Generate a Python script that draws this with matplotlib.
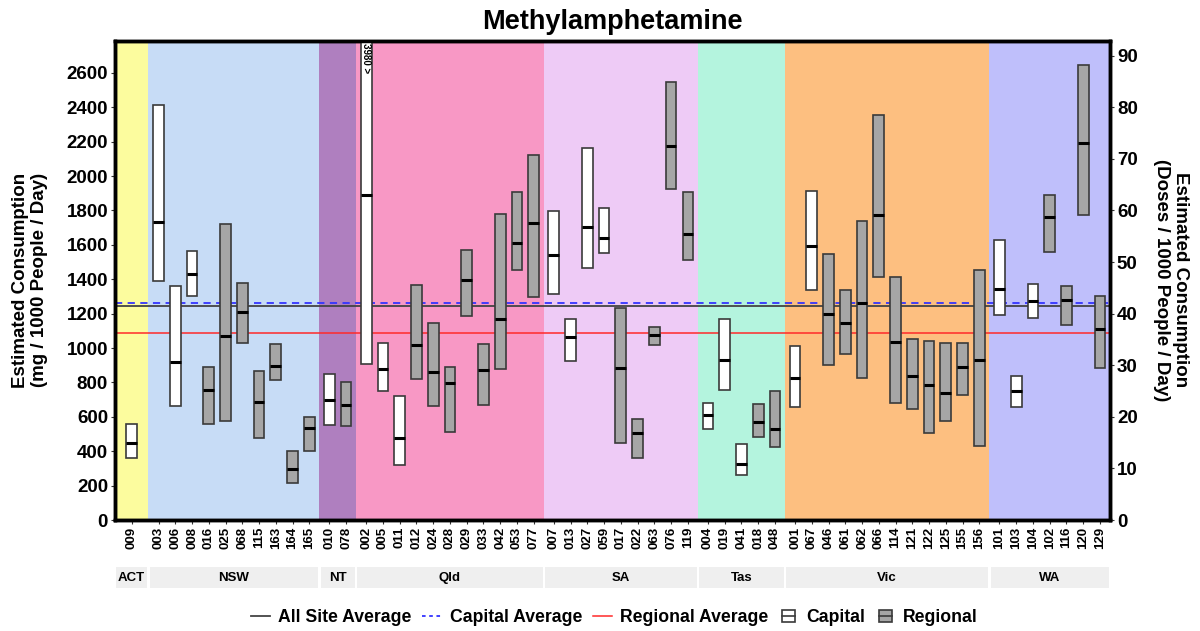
import matplotlib.pyplot as plt
from matplotlib.patches import Rectangle, Patch
from matplotlib.lines import Line2D

plt.rcParams['font.family'] = ['Liberation Sans', 'DejaVu Sans']
plt.rcParams['font.weight'] = 'bold'

# states and their site counts (in plot order)
states = ['ACT', 'NSW', 'NT', 'Qld', 'SA', 'Tas', 'Vic', 'WA']
state_sizes = [1, 10, 2, 11, 9, 5, 12, 7]
state_colours = ['#FCFC9E', '#C7DCF6', '#AF7FBF', '#F898C5',
                 '#EECBF6', '#B4F4DE', '#FDBF80', '#BFBFFB']

codes = ['009',
         '003', '006', '008', '016', '025', '068', '115', '163', '164', '165',
         '010', '078',
         '002', '005', '011', '012', '024', '028', '029', '033', '042', '053', '077',
         '007', '013', '027', '059', '017', '022', '063', '076', '119',
         '004', '019', '041', '018', '048',
         '001', '067', '046', '061', '062', '066', '114', '121', '122', '125', '155', '156',
         '101', '103', '104', '102', '116', '120', '129']

# 1 = capital, 0 = regional
capital = [1,
           1, 1, 1, 0, 0, 0, 0, 0, 0, 0,
           1, 0,
           1, 1, 1, 0, 0, 0, 0, 0, 0, 0, 0,
           1, 1, 1, 1, 0, 0, 0, 0, 0,
           1, 1, 1, 0, 0,
           1, 1, 0, 0, 0, 0, 0, 0, 0, 0, 0, 0,
           1, 1, 1, 0, 0, 0, 0]

low = [363,
       1388, 665, 1303, 559, 578, 1028, 479, 816, 217, 402,
       553, 549,
       905, 750, 317, 820, 663, 514, 1187, 669, 880, 1454, 1295,
       1316, 926, 1467, 1550, 445, 363, 1017, 1927, 1510,
       532, 758, 261, 485, 425,
       655, 1338, 901, 963, 827, 1413, 682, 646, 507, 576, 727, 431,
       1191, 657, 1177, 1558, 1131, 1775, 882]

median = [445,
          1730, 918, 1429, 758, 1067, 1208, 684, 895, 294, 534,
          700, 669,
          1891, 880, 478, 1015, 860, 798, 1396, 872, 1166, 1610, 1724,
          1541, 1063, 1705, 1639, 882, 503, 1077, 2173, 1664,
          611, 932, 325, 568, 530,
          827, 1595, 1199, 1148, 1260, 1775, 1034, 837, 787, 740, 889, 928,
          1344, 750, 1274, 1763, 1278, 2192, 1112]

high = [557,
        2412, 1363, 1564, 887, 1719, 1380, 866, 1021, 402, 599,
        851, 800,
        3980, 1027, 721, 1369, 1144, 891, 1572, 1023, 1779, 1906, 2125,
        1798, 1166, 2165, 1813, 1230, 590, 1123, 2548, 1910,
        682, 1170, 443, 675, 748,
        1009, 1912, 1547, 1336, 1738, 2357, 1415, 1052, 1038, 1028, 1030, 1454,
        1626, 839, 1371, 1889, 1363, 2646, 1301]

all_avg = 1245
capital_avg = 1264
regional_avg = 1088

mg_per_dose = 30
y_max = 2785


class BoxHandler:
    """ small square box with a median line for the legend """
    def legend_artist(self, legend, orig_handle, fontsize, handlebox):
        x0, y0 = handlebox.xdescent, handlebox.ydescent
        w, h = handlebox.width, handlebox.height
        side = h * 1.0
        left = x0 + (w - side) / 2
        bottom = y0 + (h - side) / 2
        rect = Rectangle((left, bottom), side, side,
                         facecolor=orig_handle.get_facecolor(),
                         edgecolor='#3A3A3A', lw=1.2,
                         transform=handlebox.get_transform())
        mid = Line2D([left, left + side], [bottom + side / 2] * 2,
                     color='#3A3A3A', lw=1.2,
                     transform=handlebox.get_transform())
        handlebox.add_artist(rect)
        handlebox.add_artist(mid)
        return rect


# x layout: each state block is n + 0.2 wide (single site block is 2 wide)
x_pos = []
blocks = []
start = 0.0
for n in state_sizes:
    width = 2.0 if n == 1 else n + 0.2
    first = start + (1.0 if n == 1 else 0.6)
    for i in range(n):
        x_pos.append(first + i)
    blocks.append((start, width))
    start += width
x_end = start

fig = plt.figure(figsize=(12, 6.31), dpi=100)
ax = fig.add_axes([0.0958, 0.1759, 0.8292, 0.7591])

for (s, w), c in zip(blocks, state_colours):
    ax.axvspan(s, s + w, color=c, zorder=0, lw=0)

ax.axhline(all_avg, color='#444444', lw=1.3, zorder=1)
ax.axhline(capital_avg, color='#3333FF', lw=1.3, ls=(0, (4, 3)), zorder=1)
ax.axhline(regional_avg, color='#FF2A2A', lw=1.1, zorder=1)

box_w = 0.64
for x, c, lo, me, hi in zip(x_pos, capital, low, median, high):
    face = 'white' if c else '#A6A6A6'
    ax.bar(x, hi - lo, bottom=lo, width=box_w, color=face,
           edgecolor='#3A3A3A', linewidth=1.2, zorder=3)
    ax.plot([x - box_w / 2, x + box_w / 2], [me, me], color='black',
            lw=2.2, zorder=4, solid_capstyle='butt')
    if hi > y_max:
        ax.text(x, y_max - 12, '%d >' % hi, rotation=270, ha='center',
                va='top', fontsize=7, zorder=5)

ax.set_xlim(0, x_end)
ax.set_ylim(0, y_max)
ax.set_yticks(range(0, 2601, 200))
ax.set_xticks(x_pos)
ax.set_xticklabels(codes, rotation=90, fontsize=9.5)
ax.tick_params(axis='y', labelsize=13.5, length=3, color='#333333', pad=2)
ax.tick_params(axis='x', length=3, color='#333333', pad=2)
for sp in ax.spines.values():
    sp.set_linewidth(2.5)

ax2 = ax.twinx()
ax2.set_ylim(0, y_max / mg_per_dose)
ax2.set_yticks(range(0, 91, 10))
ax2.tick_params(axis='y', labelsize=13.5, length=3, color='#333333', pad=2)
for sp in ax2.spines.values():
    sp.set_linewidth(2.5)

fig.text(0.025, 0.5563, 'Estimated Consumption\n(mg / 1000 People / Day)',
         rotation=90, ha='center', va='center', multialignment='center',
         fontsize=13.5, fontweight='bold')
fig.text(0.976, 0.5563, 'Estimated Consumption\n(Doses / 1000 People / Day)',
         rotation=270, ha='center', va='center', multialignment='center',
         fontsize=13.5, fontweight='bold')

ax.set_title('Methylamphetamine', fontsize=19.5, fontweight='bold', pad=9)

# state strips under the x labels
sax = fig.add_axes([0.0958, 0.068, 0.8292, 0.0333])
sax.set_xlim(0, x_end)
sax.set_ylim(0, 1)
sax.axis('off')
for (s, w), name in zip(blocks, states):
    sax.add_patch(Rectangle((s + 0.07, 0), w - 0.14, 1, color='#EFEFEF', lw=0))
    sax.text(s + w / 2, 0.5, name, ha='center', va='center', fontsize=9.5)

cap_patch = Patch(facecolor='white')
reg_patch = Patch(facecolor='#A6A6A6')
handles = [
    Line2D([], [], color='#444444', lw=1.3),
    Line2D([], [], color='#3333FF', lw=1.3, ls=(0, (2, 2))),
    Line2D([], [], color='#FF2A2A', lw=1.1),
    cap_patch,
    reg_patch,
]
labels = ['All Site Average', 'Capital Average', 'Regional Average', 'Capital', 'Regional']
fig.legend(handles, labels, loc='center', bbox_to_anchor=(0.512, 0.021), ncol=5,
           frameon=False, fontsize=12.7, handlelength=1.1, handletextpad=0.45,
           columnspacing=0.6,
           handler_map={cap_patch: BoxHandler(), reg_patch: BoxHandler()})

fig.savefig('out.png', dpi=100)
